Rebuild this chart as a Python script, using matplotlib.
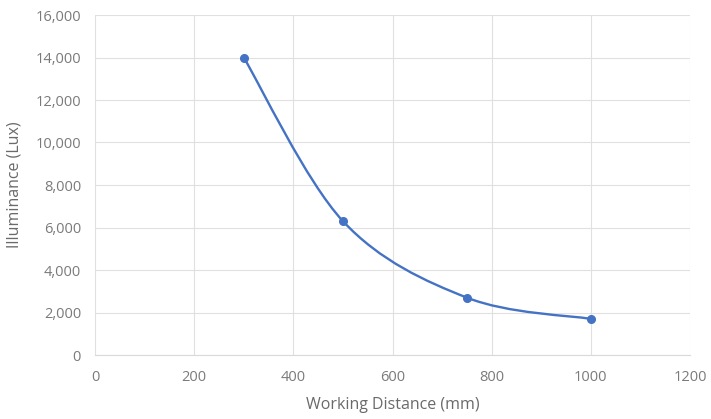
import matplotlib
matplotlib.use("Agg")
import matplotlib.pyplot as plt
from matplotlib.path import Path
from matplotlib.patches import PathPatch
from matplotlib.ticker import FuncFormatter

distance = [300, 500, 750, 1000]
illuminance = [14000, 6300, 2700, 1700]
x_ticks = [0, 200, 400, 600, 800, 1000, 1200]
y_ticks = [0, 2000, 4000, 6000, 8000, 10000, 12000, 14000, 16000]

plt.rcParams['font.family'] = ['Open Sans', 'DejaVu Sans']
fig = plt.figure(figsize=(7.11, 4.19), dpi=100)
ax = fig.add_axes([95 / 711, 1 - 355 / 419, 595 / 711, 340 / 419])

color = '#4472C4'
# Excel-like smoothed line: Catmull-Rom converted to cubic Bezier
pts = list(zip(distance, illuminance))
verts = [pts[0]]
codes = [Path.MOVETO]
t = 1.0 / 6.0
for i in range(len(pts) - 1):
    p0 = pts[i - 1] if i > 0 else pts[i]
    p1 = pts[i]
    p2 = pts[i + 1]
    p3 = pts[i + 2] if i + 2 < len(pts) else pts[i + 1]
    c1 = (p1[0] + (p2[0] - p0[0]) * t, p1[1] + (p2[1] - p0[1]) * t)
    c2 = (p2[0] - (p3[0] - p1[0]) * t, p2[1] - (p3[1] - p1[1]) * t)
    verts += [c1, c2, p2]
    codes += [Path.CURVE4] * 3
ax.add_patch(PathPatch(Path(verts, codes), facecolor='none', edgecolor=color, lw=1.7, zorder=3))
ax.plot(distance, illuminance, 'o', color=color, ms=5.5, zorder=4)

ax.set_xlim(0, 1200)
ax.set_ylim(0, 16000)
ax.set_xticks(x_ticks)
ax.set_yticks(y_ticks)
ax.yaxis.set_major_formatter(FuncFormatter(lambda v, p: f"{int(v):,}"))
ax.grid(True, color='#e0e0e0', lw=0.8)
ax.set_axisbelow(True)
for s in ['top', 'right', 'left']:
    ax.spines[s].set_visible(False)
ax.spines['bottom'].set_color('#d9d9d9')
ax.tick_params(length=0, labelsize=10.5, colors='#7a7a7a')
ax.tick_params(axis='y', pad=10)
ax.tick_params(axis='x', pad=11)
ax.set_xlabel('Working Distance (mm)', fontsize=11.5, color='#6a6a6a')
ax.set_ylabel('Illuminance (Lux)', fontsize=11.5, color='#6a6a6a')
ax.xaxis.set_label_coords(0.5, -(405 - 355) / 340)
ax.yaxis.set_label_coords(-(95 - 15) / 595, 0.5)
ax.xaxis.label.set_va('center')
ax.yaxis.label.set_va('center')

fig.savefig('out.png', dpi=100)
